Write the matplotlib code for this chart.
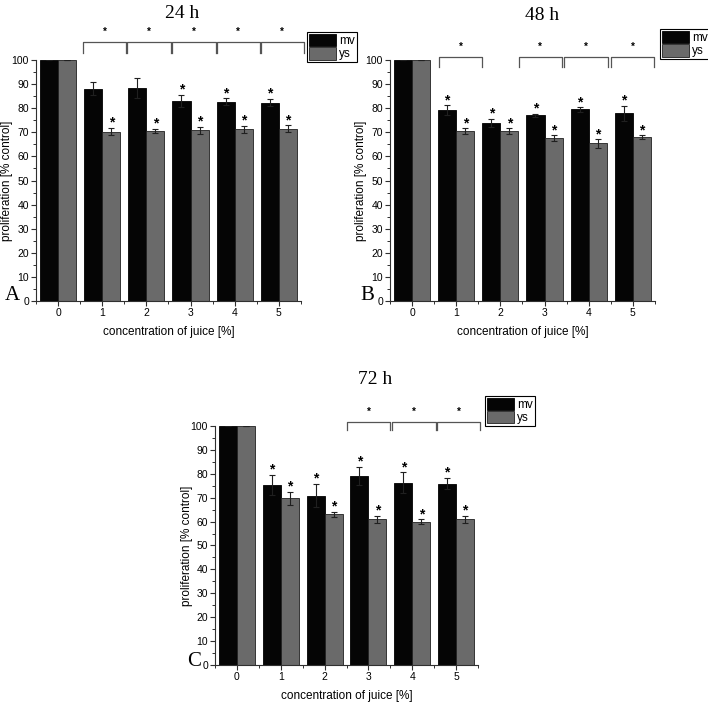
import numpy as np
import matplotlib
matplotlib.use('Agg')
import matplotlib.pyplot as plt
from matplotlib.ticker import MultipleLocator

plt.rcParams['font.family'] = ['Liberation Sans Narrow', 'Liberation Sans', 'DejaVu Sans']

conc = [0, 1, 2, 3, 4, 5]

# 24 h
mv_24 = [100, 88.0, 88.4, 83.1, 82.7, 82.3]
mv_24_err = [0, 2.7, 4.0, 2.6, 1.4, 1.5]
ys_24 = [100, 70.3, 70.5, 70.9, 71.2, 71.5]
ys_24_err = [0, 1.5, 0.9, 1.5, 1.6, 1.4]
mv_24_sig = [0, 0, 0, 1, 1, 1]
ys_24_sig = [0, 1, 1, 1, 1, 1]
br_24 = [(0.56, 1.54), (1.56, 2.56), (2.58, 3.58), (3.59, 4.57), (4.59, 5.56)]

# 48 h
mv_48 = [100, 79.3, 74.0, 77.0, 79.5, 77.9]
mv_48_err = [0, 1.9, 1.7, 0.7, 0.9, 3.0]
ys_48 = [100, 70.5, 70.4, 67.6, 65.4, 67.9]
ys_48_err = [0, 1.1, 1.2, 1.1, 1.7, 0.8]
mv_48_sig = [0, 1, 1, 1, 1, 1]
ys_48_sig = [0, 1, 1, 1, 1, 1]
br_48 = [(0.61, 1.59), (2.42, 3.39), (3.45, 4.43), (4.5, 5.48)]

# 72 h
mv_72 = [100, 75.2, 70.9, 79.2, 76.2, 75.9]
mv_72_err = [0, 4.2, 5.0, 3.8, 4.4, 2.4]
ys_72 = [100, 69.8, 63.0, 61.0, 60.0, 61.0]
ys_72_err = [0, 2.7, 1.2, 1.4, 0.9, 1.5]
mv_72_sig = [0, 1, 1, 1, 1, 1]
ys_72_sig = [0, 1, 1, 1, 1, 1]
br_72 = [(2.52, 3.5), (3.54, 4.54), (4.57, 5.55)]


def panel(ax, mv, mv_err, ys, ys_err, mv_sig, ys_sig, brackets, br_top, br_leg, br_star):
	x = np.arange(len(conc))
	w = 0.41
	ekw = dict(ecolor='#202020', elinewidth=0.8, capsize=2, capthick=0.8)
	ax.bar(x - w/2, mv, w, yerr=mv_err, color='#050505', edgecolor='black', lw=0.6, label='mv', error_kw=ekw)
	ax.bar(x + w/2, ys, w, yerr=ys_err, color='#6a6a6a', edgecolor='#202020', lw=0.6, label='ys', error_kw=ekw)
	for i in range(len(conc)):
		if mv_sig[i]:
			ax.text(x[i] - w/2, mv[i] + mv_err[i] + 2.2, '*', ha='center', va='center', fontsize=10, fontweight='bold')
		if ys_sig[i]:
			ax.text(x[i] + w/2, ys[i] + ys_err[i] + 2.2, '*', ha='center', va='center', fontsize=10, fontweight='bold')
	for lo, hi in brackets:
		ax.plot([lo, lo, hi, hi], [br_leg, br_top, br_top, br_leg], color='#555555', lw=0.9, clip_on=False)
		ax.text((lo + hi) / 2, br_star, '*', ha='center', va='center', fontsize=7, fontweight='bold', clip_on=False)
	ax.set_xlim(-0.5, 5.5)
	ax.set_ylim(0, 100)
	ax.spines['top'].set_visible(False)
	ax.spines['right'].set_visible(False)
	for s in ['left', 'bottom']:
		ax.spines[s].set_linewidth(0.8)
		ax.spines[s].set_color('#303030')
	ax.yaxis.set_major_locator(MultipleLocator(10))
	ax.yaxis.set_minor_locator(MultipleLocator(5))
	ax.set_xticks(x)
	ax.set_xticklabels([str(c) for c in conc])
	ax.set_xticks(np.arange(-0.5, 6, 1), minor=True)
	ax.tick_params(which='major', direction='out', length=3.5, width=0.8, labelsize=7.5, pad=1.5, color='#303030')
	ax.tick_params(which='minor', direction='out', length=2, width=0.7, color='#303030')
	ax.set_ylabel('proliferation [% control]', fontsize=8.5)
	ax.yaxis.set_label_coords(-0.085, 0.5)
	ax.set_xlabel('concentration of juice [%]', fontsize=8.5, labelpad=6)


fig = plt.figure(figsize=(7.08, 7.04), dpi=100)
ax_a = fig.add_axes([0.0508, 0.5724, 0.3743, 0.3423])
ax_b = fig.add_axes([0.5508, 0.5724, 0.3743, 0.3423])
ax_c = fig.add_axes([0.3037, 0.0554, 0.3715, 0.3395])

panel(ax_a, mv_24, mv_24_err, ys_24, ys_24_err, mv_24_sig, ys_24_sig, br_24, 107.6, 103.0, 111.6)
panel(ax_b, mv_48, mv_48_err, ys_48, ys_48_err, mv_48_sig, ys_48_sig, br_48, 101.4, 97.2, 105.5)
panel(ax_c, mv_72, mv_72_err, ys_72, ys_72_err, mv_72_sig, ys_72_sig, br_72, 101.5, 98.3, 106.0)

leg_kw = dict(loc='upper left', bbox_transform=fig.transFigure, fontsize=8.5, frameon=True, fancybox=False,
	edgecolor='black', framealpha=1, handlelength=2.3, handleheight=1.2, handletextpad=0.3,
	labelspacing=0.05, borderpad=0.15, borderaxespad=0)
for ax, pos in [(ax_a, (0.4336, 0.9545)), (ax_b, (0.9322, 0.9588)), (ax_c, (0.685, 0.4375))]:
	lg = ax.legend(bbox_to_anchor=pos, **leg_kw)
	lg.get_frame().set_linewidth(0.8)

serif = ['Liberation Serif', 'DejaVu Serif']
fig.text(182/708, 1 - 13/704, '24 h', ha='center', va='center', fontsize=14, family=serif)
fig.text(542/708, 1 - 16/704, '48 h', ha='center', va='center', fontsize=14, family=serif)
fig.text(375/708, 1 - 380/704, '72 h', ha='center', va='center', fontsize=14, family=serif)
fig.text(12/708, 1 - 296/704, 'A', ha='center', va='center', fontsize=15, family=serif)
fig.text(367/708, 1 - 296/704, 'B', ha='center', va='center', fontsize=15, family=serif)
fig.text(194/708, 1 - 661/704, 'C', ha='center', va='center', fontsize=15, family=serif)

fig.savefig('out.png', dpi=100)
